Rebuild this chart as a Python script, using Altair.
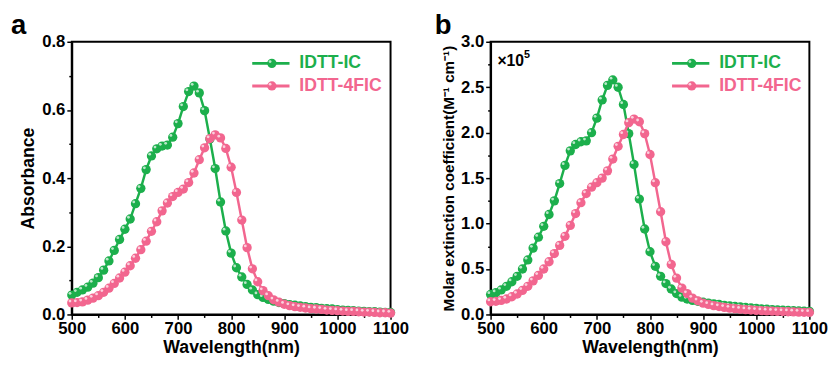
import altair as alt
import pandas as pd

wavelength = list(range(500, 1101, 10))
series_names = ["IDTT-IC", "IDTT-4FIC"]
series_colors = ["#1CAF4C", "#F2668F"]

abs_ic = [0.057, 0.065, 0.072, 0.080, 0.092, 0.108, 0.130, 0.157, 0.188, 0.220,
          0.250, 0.280, 0.325, 0.370, 0.425, 0.465, 0.486, 0.494, 0.497, 0.520,
          0.560, 0.610, 0.654, 0.670, 0.650, 0.598, 0.515, 0.428, 0.330, 0.245,
          0.180, 0.137, 0.110, 0.088, 0.072, 0.058, 0.050, 0.044, 0.039, 0.035,
          0.032, 0.029, 0.027, 0.025, 0.023, 0.021, 0.020, 0.018, 0.017, 0.016,
          0.014, 0.013, 0.012, 0.011, 0.010, 0.009, 0.008, 0.008, 0.007, 0.006,
          0.006]
abs_4fic = [0.034, 0.035, 0.037, 0.042, 0.048, 0.055, 0.065, 0.077, 0.091, 0.107,
            0.124, 0.143, 0.165, 0.190, 0.215, 0.244, 0.272, 0.304, 0.327, 0.346,
            0.358, 0.368, 0.387, 0.415, 0.454, 0.489, 0.516, 0.527, 0.518, 0.487,
            0.432, 0.358, 0.277, 0.196, 0.134, 0.096, 0.070, 0.055, 0.043, 0.036,
            0.030, 0.026, 0.023, 0.021, 0.019, 0.017, 0.016, 0.015, 0.013, 0.012,
            0.011, 0.010, 0.009, 0.009, 0.008, 0.007, 0.007, 0.006, 0.005, 0.005,
            0.004]
eps_ic = [0.22, 0.24, 0.27, 0.31, 0.36, 0.42, 0.50, 0.60, 0.73, 0.85,
          0.97, 1.10, 1.25, 1.44, 1.64, 1.80, 1.87, 1.90, 1.91, 2.00,
          2.16, 2.36, 2.52, 2.58, 2.50, 2.31, 1.99, 1.65, 1.27, 0.94,
          0.69, 0.53, 0.42, 0.34, 0.28, 0.23, 0.19, 0.17, 0.155, 0.145,
          0.135, 0.125, 0.117, 0.110, 0.100, 0.094, 0.088, 0.082, 0.077, 0.072,
          0.067, 0.062, 0.058, 0.054, 0.050, 0.047, 0.044, 0.041, 0.038, 0.036,
          0.034]
eps_4fic = [0.14, 0.145, 0.155, 0.17, 0.195, 0.225, 0.265, 0.31, 0.37, 0.43,
            0.50, 0.58, 0.67, 0.76, 0.86, 0.98, 1.11, 1.23, 1.33, 1.40,
            1.45, 1.50, 1.58, 1.71, 1.85, 1.98, 2.11, 2.15, 2.12, 1.99,
            1.76, 1.45, 1.13, 0.80, 0.55, 0.40, 0.29, 0.23, 0.18, 0.15,
            0.125, 0.110, 0.097, 0.087, 0.078, 0.070, 0.064, 0.058, 0.053, 0.049,
            0.045, 0.042, 0.039, 0.036, 0.034, 0.032, 0.030, 0.028, 0.026, 0.024,
            0.022]

x_ticks = list(range(500, 1101, 50))
abs_ticks = [round(i * 0.1, 2) for i in range(0, 9)]
eps_ticks = [round(i * 0.25, 2) for i in range(0, 13)]

FONT = "Liberation Sans"
one = pd.DataFrame({"d": [0]})
MARK_SIZE = 90


def make_df(v1, v2):
    return pd.DataFrame({
        "wavelength": wavelength * 2,
        "value": v1 + v2,
        "series": [series_names[0]] * len(wavelength) + [series_names[1]] * len(wavelength),
    })


def txt(text, x, y, size, color="black", baseline="middle"):
    return alt.Chart(one).mark_text(text=text, color=color, font=FONT, fontSize=size,
                                    fontWeight="bold", align="left", baseline=baseline
                                    ).encode(x=alt.value(x), y=alt.value(y))


def panel(df, ydom, yticks, ytest, ytitle, ytitle_size, letter, letter_dx, legend_x, extra=False):
    x_enc = alt.X(
        "wavelength:Q",
        scale=alt.Scale(domain=[500, 1100], nice=False, zero=False),
        axis=alt.Axis(
            values=x_ticks,
            format="d",
            labelFlush=False,
            labelOverlap=False,
            labelExpr="datum.value % 100 == 0 ? datum.label : ''",
            tickSize={"condition": {"test": "datum.value % 100 == 0", "value": 5}, "value": 3},
            title="Wavelength(nm)",
            titlePadding=3,
            labelPadding=1,
        ),
    )
    y_enc = alt.Y(
        "value:Q",
        scale=alt.Scale(domain=ydom, nice=False),
        axis=alt.Axis(
            values=yticks,
            labelFlush=False,
            labelOverlap=False,
            labelExpr=f"({ytest}) ? format(datum.value, '.1f') : ''",
            tickSize={"condition": {"test": ytest, "value": 5}, "value": 3},
            title=ytitle,
            titleFontSize=ytitle_size,
            titlePadding=4,
            labelPadding=2,
        ),
    )
    layers = []
    for name, color in zip(series_names, series_colors):
        base = alt.Chart(df).transform_filter(alt.datum.series == name)
        layers.append(base.mark_line(color=color, strokeWidth=2.5).encode(x=x_enc, y=y_enc))
        layers.append(base.mark_circle(color=color, size=MARK_SIZE, opacity=1).encode(x=x_enc, y=y_enc))
        layers.append(base.mark_circle(color="white", size=8, opacity=0.7, xOffset=-1.8, yOffset=-1.8)
                      .encode(x=x_enc, y=y_enc))
    # legend
    for i, (name, color) in enumerate(zip(series_names, series_colors)):
        ly = 22 + 23 * i
        layers.append(alt.Chart(one).mark_rule(color=color, strokeWidth=3)
                      .encode(x=alt.value(legend_x), x2=alt.value(legend_x + 38), y=alt.value(ly)))
        layers.append(alt.Chart(one).mark_circle(color=color, size=MARK_SIZE, opacity=1)
                      .encode(x=alt.value(legend_x + 20), y=alt.value(ly)))
        layers.append(alt.Chart(one).mark_circle(color="white", size=8, opacity=0.7, xOffset=-1.8, yOffset=-1.8)
                      .encode(x=alt.value(legend_x + 20), y=alt.value(ly)))
        layers.append(txt(name, legend_x + 48, ly, 18, color=color))
    layers.append(txt(letter, letter_dx, -8, 28, baseline="alphabetic"))
    if extra:
        layers.append(txt("\u00d710", 7, 20, 16))
        layers.append(txt("5", 34, 14, 11))
    return alt.layer(*layers).properties(width=325, height=278)


pa = panel(make_df(abs_ic, abs_4fic), [0, 0.8], abs_ticks,
           "round(datum.value * 10) % 2 == 0", "Absorbance", 18, "a", -62, 184)
pb = panel(make_df(eps_ic, eps_4fic), [0, 3.0], eps_ticks,
           "round(datum.value * 4) % 2 == 0", "Molar extinction coefficient(M\u207b\u00b9 cm\u207b\u00b9)",
           15.5, "b", -57, 185, extra=True)

chart = alt.hconcat(pa, pb, spacing=24).configure(
    padding={"left": 2, "top": 0, "right": 0, "bottom": 0}
).configure_view(
    stroke="black", strokeWidth=2
).configure_axis(
    domainColor="black", domainWidth=2, tickColor="black", tickWidth=1.5,
    labelFont=FONT, labelFontSize=17, labelFontWeight="bold", labelColor="black",
    titleFont=FONT, titleFontSize=18, titleFontWeight="bold", titleColor="black",
    grid=False,
)

chart.save("out.html", embed_options={"renderer": "svg", "actions": False})
